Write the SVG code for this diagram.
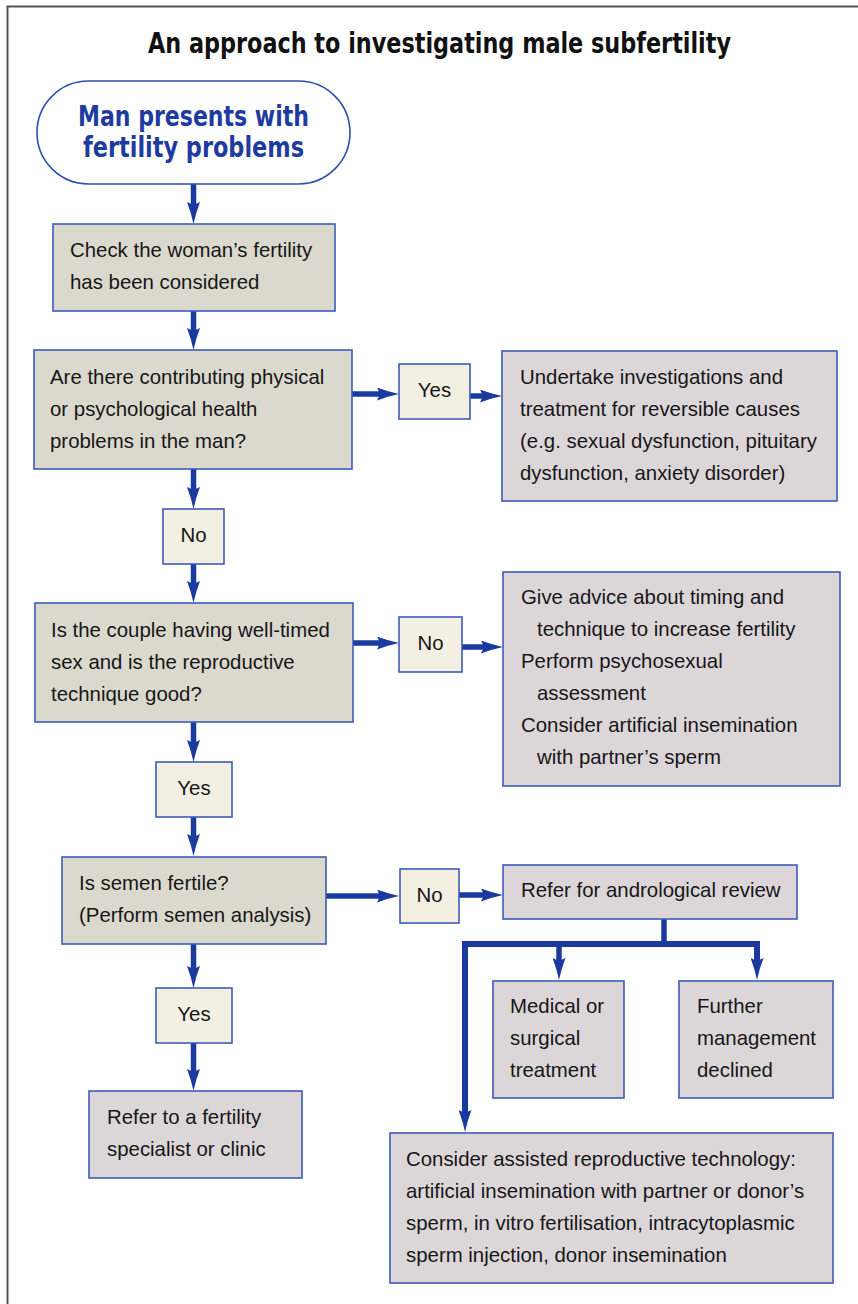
<svg xmlns="http://www.w3.org/2000/svg" width="858" height="1304" viewBox="0 0 858 1304">
<style>
.frame{fill:none;stroke:#555;stroke-width:2}
.title{font-family:"DejaVu Sans Condensed","Liberation Sans Narrow","Liberation Sans",sans-serif;font-weight:bold;font-size:28px;fill:#111}
.start{fill:#fff;stroke:#2f4fb0;stroke-width:1.6}
.starttxt{font-family:"DejaVu Sans Condensed","Liberation Sans Narrow","Liberation Sans",sans-serif;font-weight:bold;font-size:29px;fill:#1e3ca0}
.q{fill:#dbd9ce;stroke:#3d5cb8;stroke-width:1.6}
.a{fill:#dcd6d9;stroke:#3d5cb8;stroke-width:1.6}
.l{fill:#f3efe3;stroke:#3d5cb8;stroke-width:1.6}
.t{font-family:"Liberation Sans",Arial,sans-serif;font-size:20.4px;fill:#161616}
.c{text-anchor:middle}
.conn{fill:none;stroke:#1a3aa0;stroke-width:5.5}
.br{fill:none;stroke:#1a3aa0;stroke-width:6;stroke-linejoin:miter}
</style>
<defs>
<marker id="ah" viewBox="0 0 22 13" refX="4" refY="6.5" markerWidth="22" markerHeight="13" markerUnits="userSpaceOnUse" orient="auto">
<path d="M0,0 Q11,4.2 22,6.5 Q11,8.8 0,13 L3,6.5 Z" fill="#1a3aa0"/>
</marker>
</defs>
<rect width="858" height="1304" fill="#fff"/>
<path class="frame" d="M7.5,1304 L7.5,6.5 L858,6.5"/>
<text class="title" x="148" y="53" textLength="583" lengthAdjust="spacingAndGlyphs">An approach to investigating male subfertility</text>

<g id="connectors">
<line class="conn" x1="193.5" y1="184" x2="193.5" y2="206" marker-end="url(#ah)"/>
<line class="conn" x1="193.5" y1="311" x2="193.5" y2="332" marker-end="url(#ah)"/>
<line class="conn" x1="352" y1="394" x2="381" y2="394" marker-end="url(#ah)"/>
<line class="conn" x1="470" y1="396" x2="484" y2="396" marker-end="url(#ah)"/>
<line class="conn" x1="193.5" y1="469" x2="193.5" y2="491" marker-end="url(#ah)"/>
<line class="conn" x1="193.5" y1="564" x2="193.5" y2="585" marker-end="url(#ah)"/>
<line class="conn" x1="353" y1="643" x2="381" y2="643" marker-end="url(#ah)"/>
<line class="conn" x1="462" y1="647" x2="485" y2="647" marker-end="url(#ah)"/>
<line class="conn" x1="193.5" y1="722" x2="193.5" y2="744" marker-end="url(#ah)"/>
<line class="conn" x1="193.5" y1="817" x2="193.5" y2="838" marker-end="url(#ah)"/>
<line class="conn" x1="326" y1="896" x2="381" y2="896" marker-end="url(#ah)"/>
<line class="conn" x1="459" y1="895" x2="485" y2="895" marker-end="url(#ah)"/>
<line class="conn" x1="193.5" y1="944" x2="193.5" y2="970" marker-end="url(#ah)"/>
<line class="conn" x1="193.5" y1="1043" x2="193.5" y2="1073" marker-end="url(#ah)"/>
<line class="conn" x1="664" y1="919" x2="664" y2="944"/>
<path class="br" d="M465,1114 L465,944 L757,944 L757,962" marker-end="url(#ah)"/>
<line class="conn" x1="465" y1="1000" x2="465" y2="1114" marker-end="url(#ah)"/>
<line class="conn" x1="559" y1="944" x2="559" y2="962" marker-end="url(#ah)"/>
</g>

<g id="start">
<rect class="start" x="37" y="81" width="313" height="103" rx="51.5" ry="51.5"/>
<text class="starttxt" x="78" y="126" textLength="231" lengthAdjust="spacingAndGlyphs">Man presents with</text>
<text class="starttxt" x="83" y="157" textLength="221" lengthAdjust="spacingAndGlyphs">fertility problems</text>
</g>

<g id="check-woman">
<rect class="q" x="53" y="224" width="282" height="87"/>
<text class="t" x="70" y="257">Check the woman’s fertility</text>
<text class="t" x="70" y="289">has been considered</text>
</g>

<g id="q-health">
<rect class="q" x="34" y="350" width="318" height="119"/>
<text class="t" x="50" y="384">Are there contributing physical</text>
<text class="t" x="50" y="416">or psychological health</text>
<text class="t" x="50" y="448">problems in the man?</text>
</g>

<g id="yes1">
<rect class="l" x="399" y="364" width="71" height="55"/>
<text class="t c" x="434.5" y="397">Yes</text>
</g>

<g id="reversible">
<rect class="a" x="502" y="351" width="335" height="150"/>
<text class="t" x="520" y="384">Undertake investigations and</text>
<text class="t" x="520" y="416">treatment for reversible causes</text>
<text class="t" x="520" y="448">(e.g. sexual dysfunction, pituitary</text>
<text class="t" x="520" y="480">dysfunction, anxiety disorder)</text>
</g>

<g id="no1">
<rect class="l" x="163" y="509" width="61" height="55"/>
<text class="t c" x="193.5" y="542">No</text>
</g>

<g id="q-timing">
<rect class="q" x="35" y="603" width="318" height="119"/>
<text class="t" x="51" y="637">Is the couple having well-timed</text>
<text class="t" x="51" y="669">sex and is the reproductive</text>
<text class="t" x="51" y="701">technique good?</text>
</g>

<g id="no2">
<rect class="l" x="399" y="617" width="63" height="55"/>
<text class="t c" x="430.5" y="650">No</text>
</g>

<g id="advice">
<rect class="a" x="503" y="572" width="337" height="214"/>
<text class="t" x="521" y="604">Give advice about timing and</text>
<text class="t" x="537" y="636">technique to increase fertility</text>
<text class="t" x="521" y="668">Perform psychosexual</text>
<text class="t" x="537" y="700">assessment</text>
<text class="t" x="521" y="732">Consider artificial insemination</text>
<text class="t" x="537" y="764">with partner’s sperm</text>
</g>

<g id="yes2">
<rect class="l" x="156" y="762" width="76" height="55"/>
<text class="t c" x="194" y="795">Yes</text>
</g>

<g id="q-semen">
<rect class="q" x="62" y="857" width="264" height="87"/>
<text class="t" x="79" y="890">Is semen fertile?</text>
<text class="t" x="79" y="922">(Perform semen analysis)</text>
</g>

<g id="no3">
<rect class="l" x="400" y="869" width="59" height="54"/>
<text class="t c" x="429.5" y="902">No</text>
</g>

<g id="andrological">
<rect class="a" x="503" y="865" width="294" height="54"/>
<text class="t" x="521" y="897">Refer for andrological review</text>
</g>

<g id="medical">
<rect class="a" x="493" y="981" width="131" height="117"/>
<text class="t" x="510" y="1013">Medical or</text>
<text class="t" x="510" y="1045">surgical</text>
<text class="t" x="510" y="1077">treatment</text>
</g>

<g id="declined">
<rect class="a" x="679" y="981" width="154" height="117"/>
<text class="t" x="697" y="1013">Further</text>
<text class="t" x="697" y="1045">management</text>
<text class="t" x="697" y="1077">declined</text>
</g>

<g id="yes3">
<rect class="l" x="156" y="988" width="76" height="55"/>
<text class="t c" x="194" y="1021">Yes</text>
</g>

<g id="specialist">
<rect class="a" x="89" y="1091" width="213" height="87"/>
<text class="t" x="107" y="1124">Refer to a fertility</text>
<text class="t" x="107" y="1156">specialist or clinic</text>
</g>

<g id="art">
<rect class="a" x="390" y="1133" width="443" height="150"/>
<text class="t" x="406" y="1166">Consider assisted reproductive technology:</text>
<text class="t" x="406" y="1198">artificial insemination with partner or donor’s</text>
<text class="t" x="406" y="1230">sperm, in vitro fertilisation, intracytoplasmic</text>
<text class="t" x="406" y="1262">sperm injection, donor insemination</text>
</g>
</svg>
